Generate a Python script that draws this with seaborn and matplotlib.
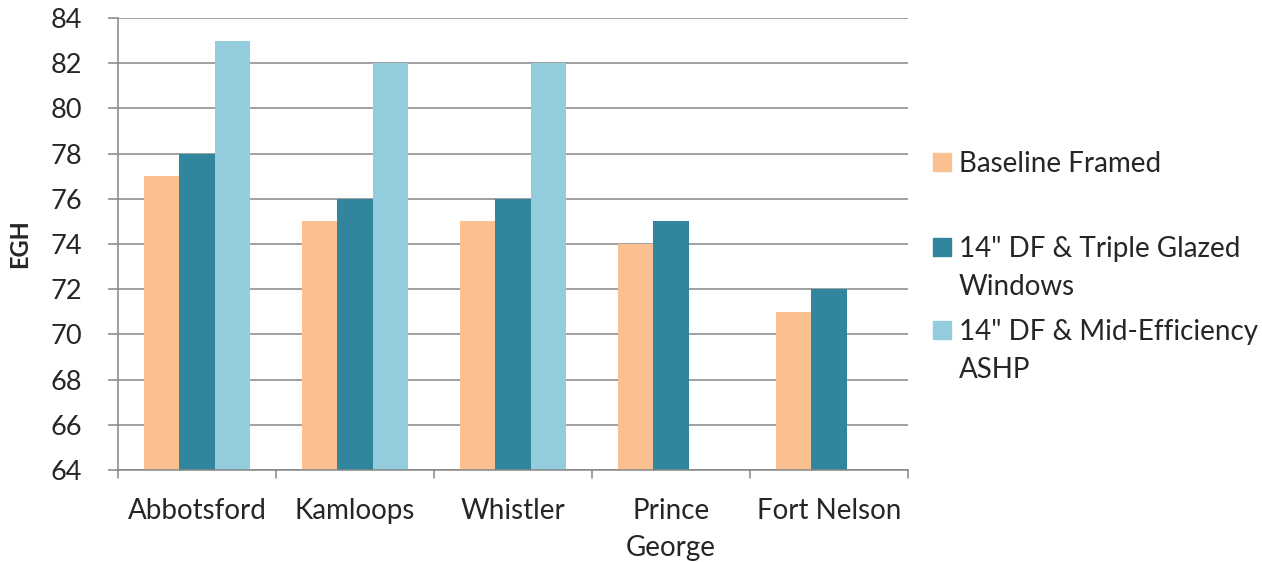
import matplotlib
matplotlib.use("Agg")
import matplotlib.pyplot as plt
import matplotlib.patches as mpatches
import seaborn as sns
import pandas as pd
import numpy as np

cities = ["Abbotsford", "Kamloops", "Whistler", "Prince\nGeorge", "Fort Nelson"]
series = ["Baseline Framed",
          "14\" DF & Triple Glazed\nWindows",
          "14\" DF & Mid-Efficiency\nASHP"]
baseline = [77, 75, 75, 74, 71]
triple_glazed = [78, 76, 76, 75, 72]
mid_ashp = [83, 82, 82, np.nan, np.nan]
colors = ["#FAC090", "#31859C", "#93CDDD"]

rows = []
for vals, s in zip([baseline, triple_glazed, mid_ashp], series):
    for c, v in zip(cities, vals):
        if not np.isnan(v):
            rows.append({"city": c, "series": s, "EGH": v})
df = pd.DataFrame(rows)

sns.set_theme(style="white")
plt.rcParams["font.family"] = ["Lato", "DejaVu Sans"]

W, H = 1262, 562
fig = plt.figure(figsize=(W / 100, H / 100), dpi=100)
ax = fig.add_axes([118 / W, 1 - 470 / H, (908 - 118) / W, (470 - 18) / H])

sns.barplot(data=df, x="city", y="EGH", hue="series", order=cities, hue_order=series,
            palette=colors, saturation=1, width=0.665, legend=False, ax=ax,
            linewidth=0, errorbar=None)

grey = "#868686"
ax.set_ylim(64, 84)
ax.set_yticks(range(64, 85, 2))
ax.set_xlim(-0.5, len(cities) - 0.5)
ax.yaxis.grid(True, color=grey, linewidth=1.1)
ax.set_axisbelow(True)
for s in ["top", "right"]:
    ax.spines[s].set_visible(False)
for s in ["left", "bottom"]:
    ax.spines[s].set_color(grey)
    ax.spines[s].set_linewidth(1.1)

ax.tick_params(axis="y", labelsize=19.5, length=7, width=1.1, color=grey, left=True, pad=19)
ax.set_xticks(range(len(cities)))
ax.set_xticklabels(cities, fontsize=20, linespacing=1.55)
ax.tick_params(axis="x", length=0, pad=20)
# tick marks between the categories, as in Excel
for b in np.arange(-0.5, len(cities), 1.0):
    ax.plot([b, b], [0, -0.018], transform=ax.get_xaxis_transform(), color=grey,
            linewidth=1.1, clip_on=False)

ax.set_xlabel("")
ax.set_ylabel("EGH", fontsize=17, fontweight="bold", labelpad=14)

# legend drawn by hand so each square sits on the first line of its label
first_line_y = [162, 247, 330]
for c, s, y in zip(colors, series, first_line_y):
    fig.patches.append(mpatches.Rectangle((933 / W, 1 - (y + 9) / H), 18 / W, 18 / H,
                                          transform=fig.transFigure, color=c))
    fig.text(959 / W, 1 - (y - 11) / H, s, fontsize=20, va="top", ha="left",
             linespacing=1.55)

fig.savefig("out.png", dpi=100)
